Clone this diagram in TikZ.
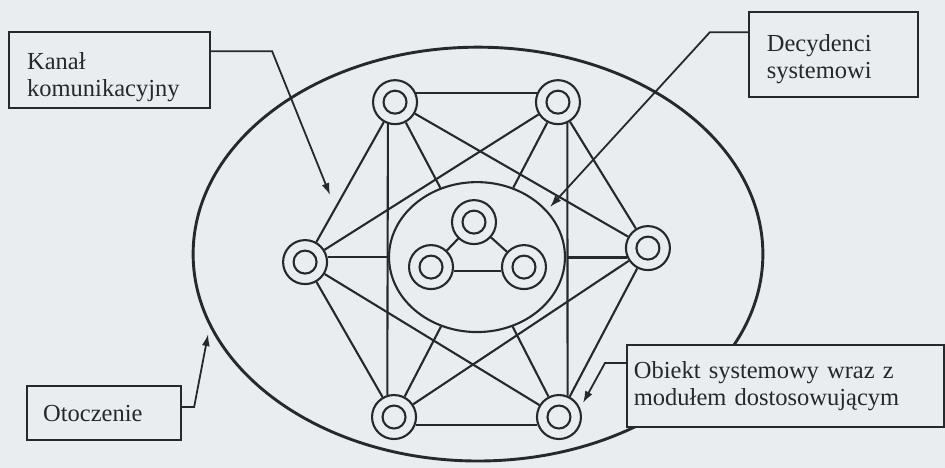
\documentclass[tikz,border=0pt]{standalone}
\usepackage{fontspec}
\setmainfont{Liberation Serif}
\usetikzlibrary{arrows.meta,shapes.geometric}
\definecolor{paper}{RGB}{234,237,239}
\definecolor{ink}{RGB}{38,41,44}
\tikzset{
  every path/.style={draw=ink},
  link/.style={line width=2.1pt},
  ring/.style={circle, draw=ink, line width=2.1pt, minimum size=44pt, inner sep=0pt,
    path picture={\draw[ink, line width=2.1pt] (path picture bounding box.center) circle (11.5pt);}},
  label box/.style={draw=ink, fill=paper, line width=1.9pt, align=left, text=ink,
    font=\fontsize{24.5}{27}\selectfont, inner ysep=4pt},
  pointer/.style={line width=1.8pt, -{Latex[length=12pt,width=8pt]}},
}
\begin{document}
\begin{tikzpicture}[x=1pt,y=-1pt]
  \useasboundingbox (0,0) rectangle (945,467);
  \fill[paper] (0,0) rectangle (945,467);

  % environment boundary
  \draw[line width=2.9pt] (478,254) ellipse [x radius=285pt, y radius=207pt];

  % decision-makers' core with its three members
  \node[ellipse, draw=ink, line width=2.1pt, minimum width=176pt, minimum height=150pt] (core) at (477,257) {};
  \node[ring] (it) at (474,222) {};
  \node[ring] (il) at (431,267) {};
  \node[ring] (ir) at (524,267) {};
  \draw[link] (it) -- (il);
  \draw[link] (it) -- (ir);
  \draw[link] (il.-10) -- (ir.190);

  % system objects
  \node[ring] (tl) at (395,102) {};
  \node[ring] (tr) at (558,102) {};
  \node[ring] (l)  at (305,262) {};
  \node[ring] (r)  at (648,248) {};
  \node[ring] (bl) at (394,417) {};
  \node[ring] (br) at (559,417) {};

  % communication channels
  \draw[link] (tl.24) -- (tr.156);
  \draw[link] (bl.-21) -- (br.201);
  \draw[link] (tl.252) -- (bl.107);
  \draw[link] (tr.294) -- (br.68);
  \draw[link] (l.13) -- (l.13 -| tl.252);
  \draw[link] (r.204) -- (r.204 -| tr.294);
  \draw[link] (tl) -- (l);
  \draw[link] (tl) -- (r);
  \draw[link] (tr) -- (l);
  \draw[link] (tr) -- (r);
  \draw[link] (bl) -- (l);
  \draw[link] (bl) -- (r);
  \draw[link] (br) -- (l);
  \draw[link] (br) -- (r);
  \draw[link] (tl) -- (core);
  \draw[link] (tr) -- (core);
  \draw[link] (bl) -- (core);
  \draw[link] (br) -- (core);

  % labels
  \node[label box, minimum width=201pt, minimum height=76pt, text width=165pt, inner xsep=18pt]
    (kanal) at (109.5,70) {\rule{0pt}{30pt}Kanał\\komunikacyjny};
  \node[label box, minimum width=169pt, minimum height=85pt, text width=133pt, inner xsep=18pt]
    (decyd) at (833.5,54.5) {\rule{0pt}{26pt}Decydenci\\systemowi};
  \node[label box, minimum width=154pt, minimum height=54pt, text width=122pt, inner xsep=16pt]
    (otocz) at (104,413) {Otoczenie};
  \node[label box, minimum width=317pt, minimum height=82pt, text width=303pt, inner xsep=7pt]
    (obiekt) at (785.5,386) {Obiekt systemowy wraz z\\modułem dostosowującym};

  % leader lines
  \coordinate (kbend) at (272,51);
  \coordinate (ktip) at (330,195);
  \draw[pointer] (kanal.east |- kbend) -- (kbend) -- (ktip);
  \coordinate (dbend) at (710,32);
  \coordinate (dtip) at (550,207);
  \draw[pointer] (decyd.west |- dbend) -- (dbend) -- (dtip);
  \coordinate (obend) at (194,407);
  \coordinate (otip) at (208,334);
  \draw[pointer] (otocz.east |- obend) -- (obend) -- (otip);
  \coordinate (bbend) at (605,363);
  \coordinate (btip) at (583,403);
  \draw[pointer] (obiekt.west |- bbend) -- (bbend) -- (btip);
\end{tikzpicture}
\end{document}
